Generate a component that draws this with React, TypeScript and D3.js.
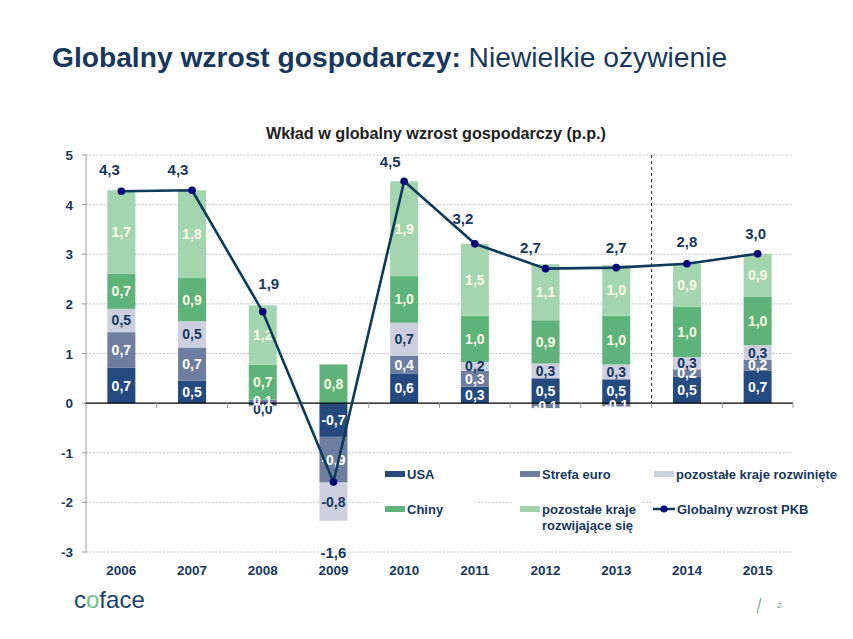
import * as d3 from 'd3'

const years = ['2006', '2007', '2008', '2009', '2010', '2011', '2012', '2013', '2014', '2015']

// contributions in p.p.
const usa = [0.71, 0.45, -0.05, -0.68, 0.6, 0.33, 0.5, 0.48, 0.53, 0.65]
const euro = [0.72, 0.67, 0.07, -0.92, 0.35, 0.32, -0.1, -0.07, 0.15, 0.22]
const devOther = [0.47, 0.53, -0.03, -0.77, 0.67, 0.18, 0.3, 0.3, 0.25, 0.3]
const china = [0.71, 0.87, 0.7, 0.78, 0.94, 0.93, 0.87, 0.98, 1.01, 0.97]
const emerging = [1.68, 1.77, 1.2, 0, 1.91, 1.45, 1.13, 1.02, 0.87, 0.87]
const gdp = [4.27, 4.29, 1.84, -1.59, 4.47, 3.21, 2.71, 2.73, 2.81, 3.01]

const usaLabels = ['0,7', '0,5', '0,0', '-0,7', '0,6', '0,3', '0,5', '0,5', '0,5', '0,7']
const euroLabels = ['0,7', '0,7', '0,1', '-0,9', '0,4', '0,3', '-0,1', '-0,1', '0,2', '0,2']
const devLabels = ['0,5', '0,5', '', '-0,8', '0,7', '0,2', '0,3', '0,3', '0,3', '0,3']
const chinaLabels = ['0,7', '0,9', '0,7', '0,8', '1,0', '1,0', '0,9', '1,0', '1,0', '1,0']
const emergingLabels = ['1,7', '1,8', '1,2', '', '1,9', '1,5', '1,1', '1,0', '0,9', '0,9']
const gdpLabels = ['4,3', '4,3', '1,9', '-1,6', '4,5', '3,2', '2,7', '2,7', '2,8', '3,0']

const yTicks = [5, 4, 3, 2, 1, 0, -1, -2, -3]

const seriesKeys = ['usa', 'euro', 'dev', 'china', 'emerging']
const seriesNames = ['USA', 'Strefa euro', 'pozostałe kraje rozwinięte', 'Chiny', 'pozostałe kraje rozwijające się']
const seriesColors = ['#244a7f', '#6e7ea0', '#ccd0de', '#5db37a', '#a3d5ae']
const labelColors = ['#ffffff', '#ffffff', '#17375e', '#fbf8e4', '#fbf8e4']
const seriesLabels = [usaLabels, euroLabels, devLabels, chinaLabels, emergingLabels]

// nudges for the line value labels (Excel placed them by hand)
const gdpLabelNudge: [number, number][] = [
  [-12, -21], [-14, -20], [6, -28], [0, 0], [-14, -19],
  [-12, -25], [-15, -21], [0, -20], [0, -22], [-2, -20],
]

const navy = '#17375e'
const FONT = '"Liberation Sans", Arial, sans-serif'

export default function App() {
  const width = 853
  const height = 639
  const margin = { left: 86, right: 60, top: 155, bottom: 87 }

  const x = d3.scaleBand().domain(years).range([margin.left, width - margin.right]).paddingInner(0).paddingOuter(0)
  const y = d3.scaleLinear().domain([-3, 5]).range([height - margin.bottom, margin.top])
  const barW = 28

  const rows = years.map((yr, i) => ({
    year: yr,
    usa: usa[i],
    euro: euro[i],
    dev: devOther[i],
    china: china[i],
    emerging: emerging[i],
  }))
  const stacked = d3.stack<any>().keys(seriesKeys).offset(d3.stackOffsetDiverging)(rows)

  const cx = (yr: string) => (x(yr) ?? 0) + x.bandwidth() / 2
  const line = d3.line<number>().x((_, i) => cx(years[i])).y((d) => y(d))

  const x0 = x.range()[0]
  const x1 = x.range()[1]
  const splitX = x('2014') ?? 0

  return (
    <svg width={width} height={height} style={{ position: 'absolute', left: 0, top: 0, background: '#fff' }} fontFamily={FONT}>
      {/* slide title */}
      <text x={52} y={67} fontSize={28.2} fill={navy}>
        <tspan fontWeight="bold">Globalny wzrost gospodarczy:</tspan>
        <tspan> Niewielkie ożywienie</tspan>
      </text>
      <text x={436} y={139} fontSize={16.2} fontWeight="bold" fill="#222" textAnchor="middle">
        Wkład w globalny wzrost gospodarczy (p.p.)
      </text>

      {/* grid */}
      {yTicks.filter((t) => t !== 0).map((t) => (
        <line key={t} x1={x0} x2={x1} y1={y(t)} y2={y(t)} stroke="#c4c4c4" strokeDasharray="2,1.5" strokeWidth={1} />
      ))}
      <line x1={x0} x2={x0} y1={y(5)} y2={y(-3)} stroke="#9a9a9a" />
      {yTicks.map((t) => (
        <g key={'yt' + t}>
          <line x1={x0 - 4} x2={x0} y1={y(t)} y2={y(t)} stroke="#9a9a9a" />
          <text x={x0 - 13} y={y(t) + 5} fontSize={13.5} fontWeight="bold" fill={navy} textAnchor="end">
            {t}
          </text>
        </g>
      ))}

      {/* split between actuals and forecast */}
      <line x1={splitX} x2={splitX} y1={y(5)} y2={y(0)} stroke="#222" strokeDasharray="3,3" strokeWidth={1} />

      {/* bars */}
      {stacked.map((s, si) =>
        s.map((d, i) => (
          <rect
            key={seriesKeys[si] + i}
            x={cx(years[i]) - barW / 2}
            y={y(Math.max(d[0], d[1]))}
            width={barW}
            height={Math.abs(y(d[0]) - y(d[1]))}
            fill={seriesColors[si]}
          />
        ))
      )}

      {/* zero line and category ticks */}
      <line x1={x0} x2={x1} y1={y(0)} y2={y(0)} stroke="#000" strokeWidth={1.3} />
      {years.slice(1).map((yr) => (
        <line key={'xt' + yr} x1={x(yr)} x2={x(yr)} y1={y(0)} y2={y(0) + 5} stroke="#9a9a9a" />
      ))}
      <line x1={x1} x2={x1} y1={y(0)} y2={y(0) + 5} stroke="#9a9a9a" />

      {/* bar labels */}
      {stacked.map((s, si) =>
        s.map((d, i) => {
          const lab = seriesLabels[si][i]
          if (!lab) return null
          let my = y((d[0] + d[1]) / 2)
          // tiny negative segments: Excel pushed the label just below the axis
          const pushed = Math.abs(d[1] - d[0]) < 0.06 && Math.min(d[0], d[1]) < 0
          if (pushed) my = y(0) + 6
          return (
            <text
              key={'l' + seriesKeys[si] + i}
              x={cx(years[i])}
              y={my + 5}
              fontSize={14}
              fontWeight="bold"
              fill={pushed ? navy : labelColors[si]}
              stroke={pushed ? '#fff' : 'none'}
              strokeWidth={pushed ? 2 : 0}
              paintOrder="stroke"
              textAnchor="middle"
            >
              {lab}
            </text>
          )
        })
      )}

      {/* legend */}
      <rect x={380} y={496} width={97} height={14} fill="#fff" />
      <rect x={513} y={496} width={128} height={14} fill="#fff" />
      <rect x={652} y={496} width={148} height={14} fill="#fff" />
      {seriesNames.map((n, i) => {
        const col = i % 3
        const row = Math.floor(i / 3)
        const lx = [385, 520, 654][col]
        const ly = [474, 509][row]
        const parts = n === 'pozostałe kraje rozwijające się' ? ['pozostałe kraje', 'rozwijające się'] : [n]
        return (
          <g key={n}>
            <rect x={lx} y={ly - 3} width={20} height={6} fill={seriesColors[i]} />
            <text x={lx + 22} y={ly + 5} fontSize={13} fontWeight="bold" fill={navy}>
              {parts.map((p, k) => (
                <tspan key={k} x={lx + 22} dy={k === 0 ? 0 : 16}>
                  {p}
                </tspan>
              ))}
            </text>
          </g>
        )
      })}
      <line x1={653} x2={675} y1={509} y2={509} stroke="#0e3a5b" strokeWidth={2.5} />
      <circle cx={664} cy={509} r={3.5} fill="#00007a" />
      <text x={677} y={514} fontSize={13} fontWeight="bold" fill={navy}>
        Globalny wzrost PKB
      </text>

      {/* gdp line */}
      <path d={line(gdp) ?? ''} fill="none" stroke="#0e3a5b" strokeWidth={2.6} strokeLinejoin="round" />
      {gdp.map((v, i) => (
        <circle key={'p' + i} cx={cx(years[i])} cy={y(v)} r={3.8} fill="#00007a" />
      ))}
      {gdp.map((v, i) => {
        const [dx, dy] = gdpLabelNudge[i]
        const ty = v < 0 ? y(-2.37) + 32 : y(v) + dy
        return (
          <text key={'g' + i} x={cx(years[i]) + dx} y={ty + 5} fontSize={15} fontWeight="bold" fill={navy} textAnchor="middle">
            {gdpLabels[i]}
          </text>
        )
      })}

      {/* x labels */}
      {years.map((yr) => (
        <text key={'xl' + yr} x={cx(yr)} y={575} fontSize={13.5} fontWeight="bold" fill={navy} textAnchor="middle">
          {yr}
        </text>
      ))}

      {/* footer */}
      <text x={74} y={608} fontSize={24} fill="#1d3f6e">
        <tspan>c</tspan>
        <tspan fill="#6cc08b">o</tspan>
        <tspan>face</tspan>
      </text>
      <line x1={757} x2={761} y1={613} y2={598} stroke="#7cc08a" strokeWidth={1.3} />
      <text x={777} y={608} fontSize={8} fill="#5c8c70">
        2
      </text>
    </svg>
  )
}
